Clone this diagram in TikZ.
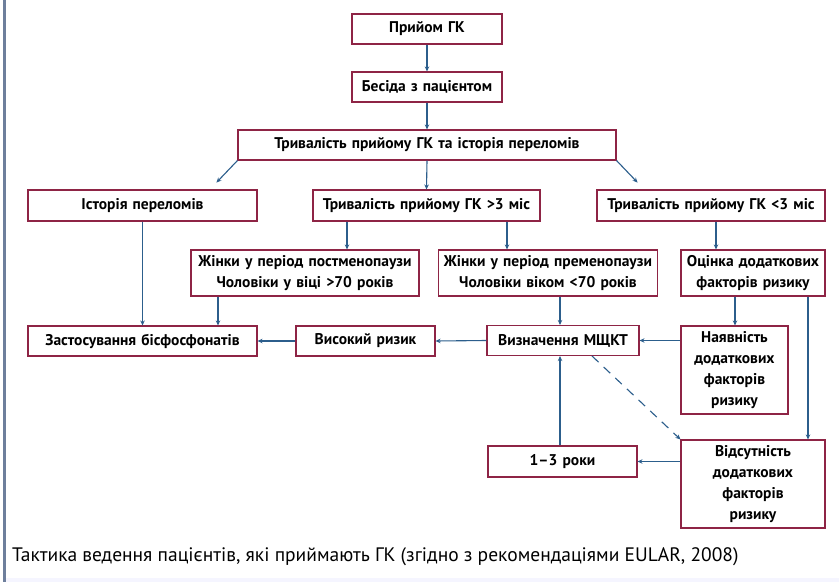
\documentclass[tikz,border=0pt]{standalone}
\usepackage{fontspec}
\setmainfont{PT Sans}
\newfontfamily\capfont{PT Sans}
\usetikzlibrary{arrows.meta}
\definecolor{boxred}{HTML}{8E2445}
\definecolor{arrblue}{HTML}{2C5E8C}
\definecolor{barblue}{HTML}{6E7F9C}
\tikzset{
  bx/.style={draw=boxred, line width=1.1bp, fill=white, inner sep=0pt, align=center,
    font=\bfseries\fontsize{15.5bp}{21bp}\selectfont},
  ar/.style={draw=arrblue, line width=1.1bp, -{Stealth[length=5bp,width=4.5bp]}},
}
\newcommand{\bxat}[6]{\node[bx, minimum width=#3bp, minimum height=#4bp, text width=#3bp-4bp] (#1) at (#5,#6) {#2};}
\begin{document}
\begin{tikzpicture}[x=1bp,y=-1bp]
\useasboundingbox (0,0) rectangle (839,582);
\fill[white] (0,0) rectangle (839,582);
\fill[barblue] (3,0) rectangle (6,582);
\fill[blue!4] (6,578) rectangle (839,582);
% nodes
\bxat{n1}{Прийом ГК}{150}{30}{427}{29}
\bxat{n2}{Бесіда з пацієнтом}{150}{30}{427}{87}
\bxat{n3}{Тривалість прийому ГК та історія переломів}{378}{30}{427}{145}
\bxat{n4}{Історія переломів}{229}{31}{142.5}{205.5}
\bxat{n5}{Тривалість прийому ГК >3 міс}{227}{31}{426.5}{205.5}
\bxat{n6}{Тривалість прийому ГК <3 міс}{228}{31}{711}{205.5}
\bxat{n7}{Жінки у період постменопаузи\\Чоловіки у віці >70 років}{228}{46}{305}{273}
\bxat{n8}{Жінки у період пременопаузи\\Чоловіки віком <70 років}{219}{46}{548}{273}
\bxat{n9}{Оцінка додаткових\\факторів ризику}{144}{46}{753}{273}
\bxat{n10}{Застосування бісфосфонатів}{229}{30}{142.5}{341}
\bxat{n11}{Високий ризик}{139}{30}{365.5}{341}
\bxat{n12}{Визначення МЩКТ}{152}{30}{563}{340.5}
\bxat{n13}{Наявність\\додаткових\\факторів\\ризику}{107}{88}{734.5}{370}
\bxat{n14}{1--3 роки}{149}{31}{562.5}{461.5}
\bxat{n15}{Відсутність\\додаткових\\факторів\\ризику}{144}{88}{753}{484}
\node[anchor=base west, inner sep=0pt, font=\capfont\fontsize{19.5bp}{22bp}\selectfont] (cap) at (12,561)
  {Тактика ведення пацієнтів, які приймають ГК (згідно з рекомендаціями EULAR, 2008)};
% connectors
\draw[ar] (n1) -- (n2);
\draw[ar] (n2) -- (n3);
\draw[ar] (n3.south) -- (n5.north);
\draw[ar] (n3.south west) -- ++(-21,22);
\draw[ar] (n3.south east) -- ++(21,22);
\draw[ar] (n4.south) -- (n10.north);
\draw[ar] (n5.south -| 347,0) -- (n7.north -| 347,0);
\draw[ar] (n5.south -| 507,0) -- (n7.north -| 507,0);
\draw[ar] (n7.south -| 218,0) -- (n10.north -| 218,0);
\draw[ar] (n6.south -| 716,0) -- (n9.north -| 716,0);
\draw[ar] (n8.south -| 560,0) -- (n12.north -| 560,0);
\draw[ar] (n9.south -| 735,0) -- (n13.north -| 735,0);
\draw[ar] (n9.south -| 808,0) -- (n15.north -| 808,0);
\draw[ar] (n13.west |- n12) -- (n12.east);
\draw[ar] (n12.west) -- (n11.east);
\draw[ar] (n11.west) -- (n10.east);
\draw[ar] (n15.west |- n14) -- (n14.east);
\draw[ar] (n14.north -| 560,0) -- (n12.south -| 560,0);
\draw[ar, dash pattern=on 9bp off 7bp] (592,356) -- (n15.north west);
\end{tikzpicture}
\end{document}
